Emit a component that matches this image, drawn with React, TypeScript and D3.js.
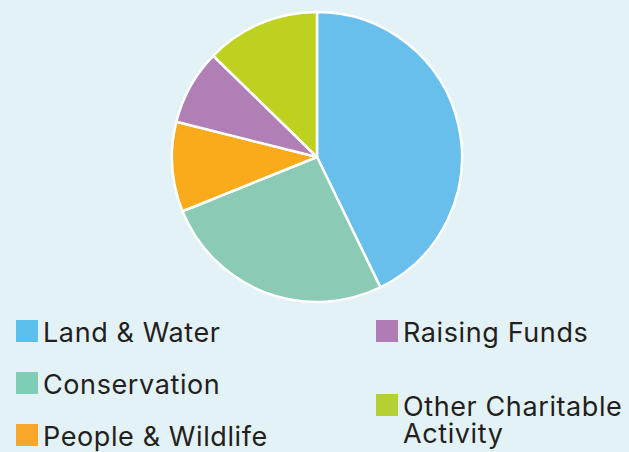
import React from "react";
import * as d3 from "d3";

const categories: string[] = ["Land & Water", "Conservation", "People & Wildlife", "Raising Funds", "Other Charitable Activity"];
const values: number[] = [42.8, 26.1, 10.0, 8.4, 12.7];
const sliceColors: string[] = ["#69bfeb", "#8bcab4", "#f9ab1b", "#b07fb6", "#bdd11e"];
const legendColors: string[] = ["#5bc0ec", "#7ecdb5", "#f9a72b", "#b07cb5", "#b5cf34"];
// legend text lines (wrapped like the original)
const legendLines: string[][] = [["Land & Water"], ["Conservation"], ["People & Wildlife"], ["Raising Funds"], ["Other Charitable", "Activity"]];

const W = 629;
const H = 452;

export default function App(): React.ReactElement {
  const cx = 317, cy = 157, r = 145;

  const pie = d3.pie<number>().sort(null).value((d) => d);
  const arc = d3.arc<d3.PieArcDatum<number>>().innerRadius(0).outerRadius(r);
  const arcs = pie(values);

  // legend slots: square left, text baseline of first line
  const slots = [
    {x: 16, y: 342},
    {x: 16, y: 394},
    {x: 16, y: 446},
    {x: 376, y: 342},
    {x: 376, y: 416},
  ];

  return (
    <div style={{position: "fixed", left: 0, top: 0, width: W, height: H}}>
      <svg width={W} height={H} style={{display: "block"}}>
        <rect width={W} height={H} fill="#e3f2f6" />
        <g transform={`translate(${cx},${cy})`}>
          {arcs.map((a, i) => (
            <path key={i} d={arc(a) ?? ""} fill={sliceColors[i]} stroke="#fff" strokeWidth={2.5} strokeLinejoin="round" />
          ))}
        </g>
        <g fontFamily="Inter, sans-serif" fontSize={27} letterSpacing={0.6} fill="#231f20">
          {categories.map((c, i) => (
            <g key={c}>
              <rect x={slots[i].x} y={slots[i].y - 22} width={22} height={22} fill={legendColors[i]} />
              <text x={slots[i].x + 27} y={slots[i].y}>
                {legendLines[i].map((line, j) => (
                  <tspan key={j} x={slots[i].x + 27} y={slots[i].y + j * 27}>{line}</tspan>
                ))}
              </text>
            </g>
          ))}
        </g>
      </svg>
    </div>
  );
}
